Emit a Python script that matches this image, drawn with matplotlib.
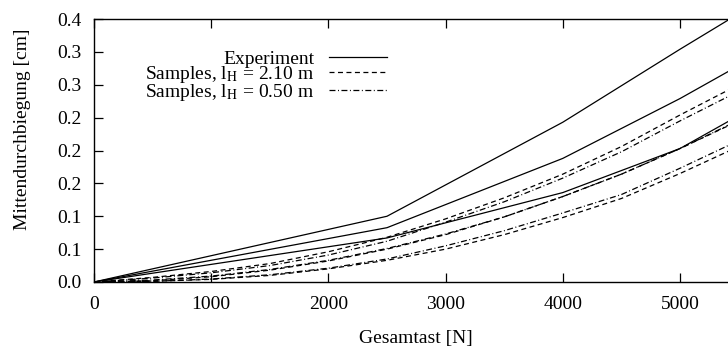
import matplotlib
matplotlib.use("Agg")
import matplotlib.pyplot as plt

# ---- data ----
load_exp = [0, 2500, 4000, 5000, 5500]
exp_1 = [0, 0.100, 0.243, 0.354, 0.408]
exp_2 = [0, 0.0826, 0.188, 0.279, 0.329]
exp_3 = [0, 0.067, 0.136, 0.203, 0.253]

load_sim = [0, 500, 1000, 1500, 2000, 2500, 3000, 3500, 4000, 4500, 5000, 5500]
# l_H = 2.10 m (dashed)
sim210_1 = [0, 0.007, 0.016, 0.028, 0.046, 0.068, 0.096, 0.128, 0.164, 0.206, 0.254, 0.300]
sim210_2 = [0, 0.002, 0.008, 0.018, 0.032, 0.050, 0.072, 0.099, 0.130, 0.164, 0.203, 0.245]
sim210_3 = [0, 0.001, 0.004, 0.010, 0.020, 0.033, 0.050, 0.072, 0.098, 0.127, 0.165, 0.206]
# l_H = 0.50 m (dash-dot)
sim050_1 = [0, 0.006, 0.014, 0.025, 0.041, 0.062, 0.091, 0.122, 0.158, 0.198, 0.245, 0.290]
sim050_2 = [0, 0.003, 0.009, 0.019, 0.033, 0.051, 0.073, 0.099, 0.130, 0.164, 0.203, 0.246]
sim050_3 = [0, 0.001, 0.0045, 0.011, 0.021, 0.035, 0.055, 0.078, 0.105, 0.133, 0.173, 0.215]

xticks = [0, 1000, 2000, 3000, 4000, 5000]
yticks = [0, 0.05, 0.10, 0.15, 0.20, 0.25, 0.30, 0.35, 0.40]
ytick_labels = ["0.0", "0.1", "0.1", "0.2", "0.2", "0.2", "0.3", "0.3", "0.4"]

plt.rcParams['font.family'] = ['Liberation Serif', 'DejaVu Serif']
plt.rcParams['mathtext.fontset'] = 'stix'
plt.rcParams['lines.scale_dashes'] = False
fs = 14

fig = plt.figure(figsize=(7.28, 3.47), dpi=100)
W, H = 728.0, 347.0
# axes box in pixels: left 94, right ~739 (past the edge), top 19, bottom 282
ax = fig.add_axes([94 / W, (H - 282) / H, 644.6 / W, 263 / H])

lw = 0.9
dash = (0, (3.6, 2.5))
dashdot = (0, (4.3, 1.8, 0.7, 1.8))

l1, = ax.plot(load_exp, exp_1, color='black', lw=lw)
ax.plot(load_exp, exp_2, color='black', lw=lw)
ax.plot(load_exp, exp_3, color='black', lw=lw)

l2, = ax.plot(load_sim, sim210_1, color='black', lw=lw, linestyle=dash)
ax.plot(load_sim, sim210_2, color='black', lw=lw, linestyle=dash)
ax.plot(load_sim, sim210_3, color='black', lw=lw, linestyle=dash)

l3, = ax.plot(load_sim, sim050_1, color='black', lw=lw, linestyle=dashdot)
ax.plot(load_sim, sim050_2, color='black', lw=lw, linestyle=dashdot)
ax.plot(load_sim, sim050_3, color='black', lw=lw, linestyle=dashdot)

ax.set_xlim(0, 5500)
ax.set_ylim(0, 0.4)
ax.set_xticks(xticks)
ax.set_yticks(yticks)
ax.set_yticklabels(ytick_labels)
ax.tick_params(direction='in', length=6.5, width=0.9, top=True, right=True,
               labelsize=fs)
ax.tick_params(axis='x', pad=10)
ax.tick_params(axis='y', pad=9)
for s in ax.spines.values():
    s.set_linewidth(1.0)

leg = ax.legend([l1, l2, l3],
                ["Experiment",
                 r"Samples, l$_{\rm H}$ = 2.10 m",
                 r"Samples, l$_{\rm H}$ = 0.50 m"],
                loc='upper right', bbox_to_anchor=((387 - 94) / 644.6, (282 - 50) / 263),
                frameon=False, fontsize=fs, markerfirst=False,
                handlelength=3.0, handletextpad=0.75, labelspacing=-0.17,
                borderpad=0, borderaxespad=0)

fig.text(416 / W, 1 - 338 / H, "Gesamtast [N]", ha='center', va='center', fontsize=fs)
fig.text(23 / W, 1 - 129 / H, "Mittendurchbiegung [cm]", ha='center', va='center',
         rotation=90, fontsize=fs)

fig.savefig("out.png", dpi=100)
